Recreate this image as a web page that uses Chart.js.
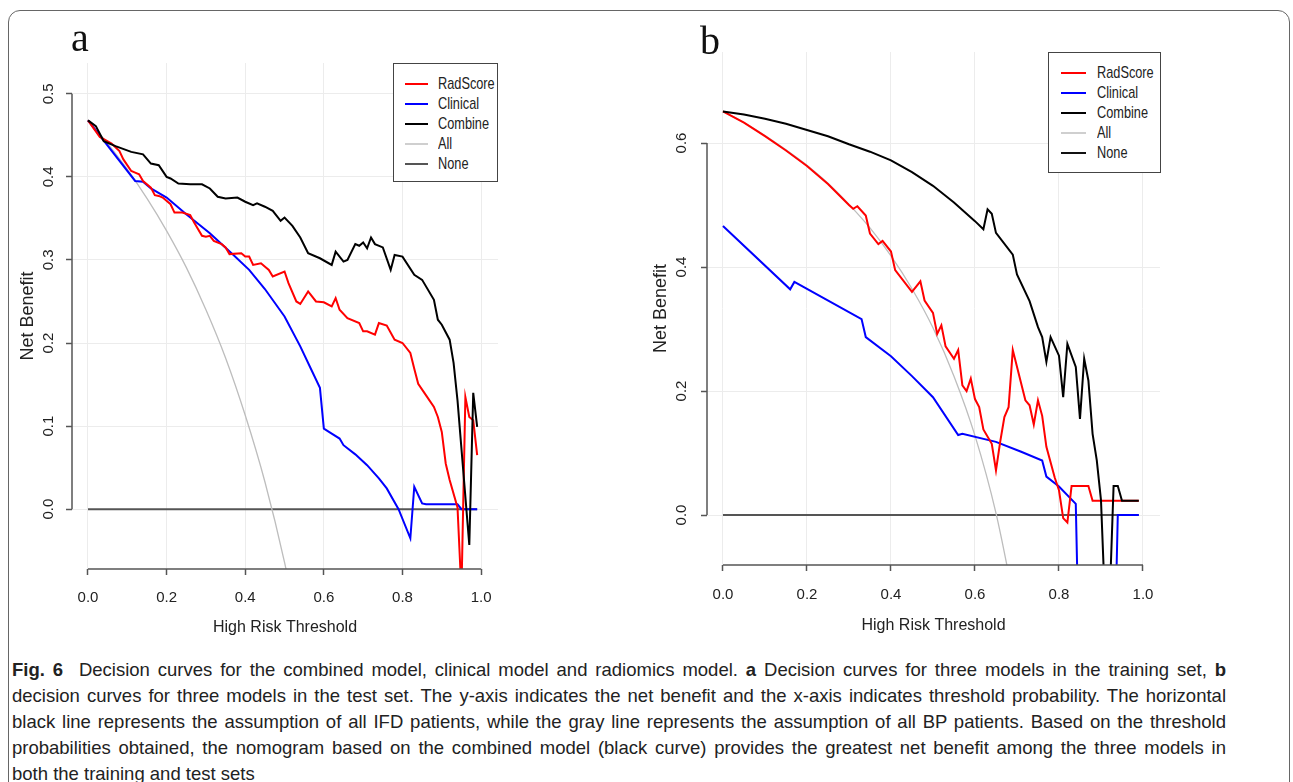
<!DOCTYPE html>
<html>
<head>
<meta charset="utf-8">
<script src="https://cdn.jsdelivr.net/npm/chart.js@4.4.1/dist/chart.umd.min.js"></script>
<style>
  html, body { margin: 0; padding: 0; background: #fff; }
  body { width: 1293px; height: 782px; position: relative; overflow: hidden; font-family: "Liberation Sans", Arial, sans-serif; color: #222; }
  .frame { position: absolute; left: 8px; top: 10px; width: 1282px; height: 820px; border: 1.5px solid #666; border-radius: 12px; box-sizing: border-box; }
  .panel { position: absolute; top: 0; height: 645px; }
  #panelA { left: 0; width: 650px; }
  #panelB { left: 650px; width: 643px; }
  .tag { position: absolute; font-family: "Liberation Serif", "Times New Roman", serif; font-size: 40px; line-height: 40px; color: #111; }
  .legend { position: absolute; background: #fff; border: 1.5px solid #444; box-sizing: border-box; font-family: "Liberation Sans", Arial, sans-serif; font-size: 17px; color: #222; }
  .legend .row { position: absolute; left: 0; height: 20px; width: 100%; }
  .legend .sw { position: absolute; top: 50%; }
  .legend .lb { position: absolute; top: 0; line-height: 20px; white-space: nowrap; transform: scaleX(0.75); transform-origin: left center; }
  .caption { position: absolute; left: 12px; top: 657px; width: 1214px; font-size: 18.5px; line-height: 26px; color: #222; }
  .caption .jl { text-align: justify; text-align-last: justify; white-space: nowrap; }
</style>
</head>
<body>
<div class="frame"></div>
<div class="panel" id="panelA"><canvas id="chartA"></canvas></div>
<div class="panel" id="panelB"><canvas id="chartB"></canvas></div>
<div class="tag" style="left:71px; top:18px;">a</div>
<div class="tag" style="left:700px; top:21px;">b</div>
<div class="legend" id="legendA" style="left:393px; top:63px; width:105px; height:119px;"></div>
<div class="legend" id="legendB" style="left:1048px; top:52px; width:113px; height:121px;"></div>
<div class="caption">
  <div class="jl"><b>Fig. 6</b>&nbsp; Decision curves for the combined model, clinical model and radiomics model. <b>a</b> Decision curves for three models in the training set, <b>b</b></div>
  <div class="jl">decision curves for three models in the test set. The y-axis indicates the net benefit and the x-axis indicates threshold probability. The horizontal</div>
  <div class="jl">black line represents the assumption of all IFD patients, while the gray line represents the assumption of all BP patients. Based on the threshold</div>
  <div class="jl">probabilities obtained, the nomogram based on the combined model (black curve) provides the greatest net benefit among the three models in</div>
  <div>both the training and test sets</div>
</div>
<script>
// series names, shared by both panels
const seriesNames = ["RadScore", "Clinical", "Combine", "All", "None"];

// axis ticks
const xTicks = [0, 0.2, 0.4, 0.6, 0.8, 1.0];
const aYTicks = [0, 0.1, 0.2, 0.3, 0.4, 0.5];
const bYTicks = [0, 0.2, 0.4, 0.6];

// panel a: training set
const aRadX = [0, 0.03, 0.06, 0.08, 0.09, 0.11, 0.12, 0.13, 0.14, 0.16, 0.17, 0.18, 0.19, 0.21, 0.22, 0.24, 0.26, 0.27, 0.29, 0.30, 0.31, 0.32, 0.34, 0.35, 0.36, 0.39, 0.40, 0.41, 0.42, 0.44, 0.46, 0.47, 0.50, 0.51, 0.53, 0.54, 0.56, 0.58, 0.60, 0.62, 0.63, 0.64, 0.66, 0.69, 0.70, 0.71, 0.73, 0.74, 0.76, 0.78, 0.80, 0.82, 0.83, 0.84, 0.86, 0.88, 0.89, 0.90, 0.91, 0.92, 0.94, 0.95, 0.96, 0.97, 0.98, 0.99];
const aRadY = [0.468, 0.448, 0.440, 0.431, 0.421, 0.407, 0.405, 0.403, 0.395, 0.387, 0.378, 0.377, 0.375, 0.367, 0.357, 0.357, 0.354, 0.345, 0.329, 0.328, 0.329, 0.323, 0.319, 0.315, 0.307, 0.308, 0.304, 0.304, 0.294, 0.296, 0.288, 0.280, 0.286, 0.272, 0.250, 0.247, 0.262, 0.250, 0.249, 0.244, 0.254, 0.240, 0.230, 0.224, 0.214, 0.214, 0.210, 0.224, 0.221, 0.204, 0.200, 0.188, 0.169, 0.151, 0.137, 0.123, 0.111, 0.093, 0.055, 0.035, 0.002, -0.100, 0.135, 0.111, 0.107, 0.065];

const aClinX = [0, 0.12, 0.14, 0.16, 0.20, 0.25, 0.31, 0.37, 0.41, 0.45, 0.50, 0.54, 0.57, 0.59, 0.60, 0.62, 0.64, 0.65, 0.68, 0.71, 0.74, 0.76, 0.79, 0.82, 0.83, 0.85, 0.86, 0.94, 0.95, 0.99];
const aClinY = [0.468, 0.395, 0.394, 0.386, 0.375, 0.355, 0.332, 0.306, 0.288, 0.265, 0.232, 0.196, 0.166, 0.146, 0.097, 0.091, 0.085, 0.077, 0.066, 0.053, 0.037, 0.025, 0.000, -0.035, 0.027, 0.007, 0.006, 0.006, 0.000, 0.000];

const aCombX = [0, 0.02, 0.04, 0.07, 0.11, 0.14, 0.16, 0.18, 0.20, 0.21, 0.23, 0.26, 0.29, 0.31, 0.33, 0.35, 0.38, 0.40, 0.42, 0.43, 0.45, 0.47, 0.49, 0.50, 0.52, 0.54, 0.56, 0.59, 0.62, 0.63, 0.65, 0.66, 0.68, 0.69, 0.70, 0.71, 0.72, 0.73, 0.75, 0.77, 0.78, 0.80, 0.83, 0.85, 0.88, 0.89, 0.90, 0.92, 0.93, 0.94, 0.97, 0.98, 0.99];
const aCombY = [0.468, 0.461, 0.443, 0.437, 0.430, 0.427, 0.416, 0.414, 0.400, 0.398, 0.392, 0.391, 0.391, 0.386, 0.376, 0.374, 0.375, 0.370, 0.366, 0.368, 0.364, 0.359, 0.347, 0.351, 0.341, 0.327, 0.308, 0.302, 0.294, 0.310, 0.298, 0.300, 0.319, 0.317, 0.321, 0.314, 0.327, 0.319, 0.315, 0.288, 0.306, 0.304, 0.282, 0.276, 0.252, 0.228, 0.222, 0.204, 0.176, 0.131, -0.043, 0.140, 0.099];

const aAllX = [0, 0.05, 0.10, 0.15, 0.20, 0.25, 0.30, 0.35, 0.40, 0.45, 0.50, 0.55];
const aAllY = [0.468, 0.440, 0.409, 0.374, 0.335, 0.291, 0.240, 0.182, 0.113, 0.033, -0.064, -0.180];

const aNoneX = [0, 0.99];
const aNoneY = [0, 0];

// panel b: test set
const bRadX = [0, 0.05, 0.10, 0.15, 0.20, 0.25, 0.30, 0.31, 0.32, 0.34, 0.35, 0.37, 0.38, 0.40, 0.41, 0.45, 0.47, 0.48, 0.50, 0.51, 0.52, 0.53, 0.55, 0.56, 0.57, 0.58, 0.59, 0.60, 0.61, 0.62, 0.64, 0.65, 0.66, 0.67, 0.68, 0.69, 0.72, 0.73, 0.74, 0.75, 0.76, 0.77, 0.79, 0.80, 0.81, 0.82, 0.83, 0.87, 0.88, 0.99];
const bRadY = [0.651, 0.633, 0.611, 0.588, 0.563, 0.534, 0.500, 0.494, 0.498, 0.483, 0.454, 0.437, 0.442, 0.425, 0.395, 0.360, 0.377, 0.346, 0.326, 0.292, 0.306, 0.272, 0.252, 0.266, 0.209, 0.200, 0.220, 0.187, 0.174, 0.138, 0.115, 0.072, 0.118, 0.158, 0.174, 0.266, 0.185, 0.177, 0.146, 0.185, 0.160, 0.110, 0.060, 0.040, -0.005, -0.012, 0.047, 0.047, 0.023, 0.023];

const bClinX = [0, 0.16, 0.17, 0.33, 0.34, 0.40, 0.45, 0.50, 0.56, 0.57, 0.65, 0.71, 0.76, 0.77, 0.80, 0.84, 0.85, 0.93, 0.94, 0.99];
const bClinY = [0.466, 0.364, 0.376, 0.316, 0.287, 0.256, 0.224, 0.190, 0.129, 0.131, 0.118, 0.102, 0.088, 0.062, 0.046, 0.018, -0.300, -0.300, 0.000, 0.000];

const bCombX = [0, 0.05, 0.10, 0.15, 0.20, 0.25, 0.30, 0.35, 0.40, 0.45, 0.50, 0.55, 0.60, 0.62, 0.63, 0.64, 0.65, 0.69, 0.70, 0.73, 0.75, 0.76, 0.77, 0.78, 0.80, 0.81, 0.82, 0.84, 0.85, 0.86, 0.87, 0.88, 0.89, 0.90, 0.91, 0.92, 0.93, 0.94, 0.95, 0.99];
const bCombY = [0.651, 0.646, 0.639, 0.631, 0.621, 0.611, 0.598, 0.586, 0.572, 0.553, 0.531, 0.504, 0.474, 0.461, 0.493, 0.486, 0.455, 0.420, 0.388, 0.345, 0.303, 0.287, 0.247, 0.287, 0.257, 0.190, 0.276, 0.239, 0.155, 0.252, 0.217, 0.131, 0.088, 0.024, -0.150, -0.150, 0.047, 0.047, 0.023, 0.023];

const bAllX = [0, 0.05, 0.10, 0.15, 0.20, 0.25, 0.30, 0.35, 0.40, 0.45, 0.50, 0.55, 0.60, 0.65, 0.70];
const bAllY = [0.651, 0.633, 0.612, 0.589, 0.564, 0.535, 0.501, 0.463, 0.418, 0.365, 0.302, 0.224, 0.128, 0.003, -0.163];

const bNoneX = [0, 0.99];
const bNoneY = [0, 0];

const SANS = "'Liberation Sans', Arial, sans-serif";
const INK = "#222";

const lineSet = (label, xs, ys, color, width, order, smooth) => ({
    label,
    data: xs.map((x, i) => ({ x, y: ys[i] })),
    borderColor: color,
    borderWidth: width,
    pointRadius: 0,
    fill: false,
    tension: 0,
    cubicInterpolationMode: smooth ? "monotone" : "default",
    order
});

// R style axis: the line only runs between the first and last tick
const rAxisLines = {
    id: "rAxisLines",
    afterDatasetsDraw(chart) {
        const { ctx, chartArea, scales: { x, y } } = chart;
        const xt = x.ticks;
        const yt = y.ticks;
        ctx.save();
        ctx.strokeStyle = "#555";
        ctx.lineWidth = 1.5;
        ctx.beginPath();
        ctx.moveTo(x.getPixelForValue(xt[0].value), chartArea.bottom);
        ctx.lineTo(x.getPixelForValue(xt[xt.length - 1].value), chartArea.bottom);
        ctx.moveTo(chartArea.left, y.getPixelForValue(yt[0].value));
        ctx.lineTo(chartArea.left, y.getPixelForValue(yt[yt.length - 1].value));
        ctx.stroke();
        ctx.restore();
    }
};

const grid = {
    color: "#ececec",
    lineWidth: 1,
    tickColor: "#555",
    tickWidth: 1.5,
    tickLength: 6
};

const buildPanel = (canvasId, cfg) => new Chart(document.getElementById(canvasId), {
    type: "line",
    data: { datasets: cfg.datasets },
    options: {
        animation: false,
        responsive: true,
        maintainAspectRatio: false,
        devicePixelRatio: 1,
        layout: { autoPadding: false, padding: cfg.padding },
        plugins: { legend: { display: false }, tooltip: { enabled: false } },
        scales: {
            x: {
                type: "linear",
                min: cfg.xMin,
                max: cfg.xMax,
                afterBuildTicks: (s) => { s.ticks = xTicks.map((value) => ({ value })); },
                afterFit: (s) => { s.height = cfg.xAxisHeight; },
                grid,
                border: { display: false },
                ticks: { font: { family: SANS, size: 15 }, color: INK, padding: cfg.xTickPad, autoSkip: false, maxRotation: 0, callback: (v) => v.toFixed(1) },
                title: { display: true, text: "High Risk Threshold", font: { family: SANS, size: 16 }, color: INK, padding: { top: 0, bottom: cfg.xTitlePad } }
            },
            y: {
                type: "linear",
                min: cfg.yMin,
                max: cfg.yMax,
                afterBuildTicks: (s) => { s.ticks = cfg.yTicks.map((value) => ({ value })); },
                afterFit: (s) => { s.width = cfg.yAxisWidth; },
                grid,
                border: { display: false },
                ticks: { font: { family: SANS, size: 15 }, color: INK, padding: cfg.yTickPad, autoSkip: false, minRotation: 90, maxRotation: 90, crossAlign: "center", callback: (v) => v.toFixed(1) },
                title: { display: true, text: "Net Benefit", font: { family: SANS, size: 18 }, color: INK, padding: { top: cfg.yTitlePad, bottom: 0 } }
            }
        }
    },
    plugins: [rAxisLines]
});

const buildLegend = (id, styles) => {
    const box = document.getElementById(id);
    seriesNames.forEach((name, i) => {
        const row = document.createElement("div");
        row.className = "row";
        row.style.top = (10 + i * 20) + "px";
        const sw = document.createElement("div");
        sw.className = "sw";
        sw.style.left = styles.swLeft + "px";
        sw.style.width = styles.swWidth + "px";
        sw.style.height = styles.widths[i] + "px";
        sw.style.marginTop = (-styles.widths[i] / 2) + "px";
        sw.style.background = styles.colors[i];
        const lb = document.createElement("div");
        lb.className = "lb";
        lb.style.left = styles.textLeft + "px";
        lb.textContent = name;
        row.appendChild(sw);
        row.appendChild(lb);
        box.appendChild(row);
    });
};

buildPanel("chartA", {
    datasets: [
        lineSet(seriesNames[2], aCombX, aCombY, "#000000", 2, 0, false),
        lineSet(seriesNames[0], aRadX, aRadY, "#ff0000", 2, 1, false),
        lineSet(seriesNames[1], aClinX, aClinY, "#0000ff", 2, 2, false),
        lineSet(seriesNames[3], aAllX, aAllY, "#bdbdbd", 1.3, 3, true),
        lineSet(seriesNames[4], aNoneX, aNoneY, "#555555", 2, 4, false)
    ],
    padding: { left: 0, top: 63, right: 152, bottom: 0 },
    xMin: -0.0407, xMax: 1.043,
    yMin: -0.072, yMax: 0.537,
    yTicks: aYTicks,
    xAxisHeight: 76, yAxisWidth: 72,
    xTickPad: 14, xTitlePad: 8,
    yTickPad: 7, yTitlePad: 17
});

buildPanel("chartB", {
    datasets: [
        lineSet(seriesNames[2], bCombX, bCombY, "#000000", 2, 0, false),
        lineSet(seriesNames[0], bRadX, bRadY, "#ff0000", 2, 1, false),
        lineSet(seriesNames[1], bClinX, bClinY, "#0000ff", 2, 2, false),
        lineSet(seriesNames[3], bAllX, bAllY, "#bdbdbd", 1.3, 3, true),
        lineSet(seriesNames[4], bNoneX, bNoneY, "#555555", 2, 4, false)
    ],
    padding: { left: 0, top: 52, right: 133, bottom: 0 },
    xMin: -0.038, xMax: 1.0405,
    yMin: -0.0806, yMax: 0.7468,
    yTicks: bYTicks,
    xAxisHeight: 80, yAxisWidth: 57,
    xTickPad: 15, xTitlePad: 10,
    yTickPad: 9, yTitlePad: 0
});

buildLegend("legendA", { swLeft: 11, swWidth: 23, textLeft: 44, colors: ["#ff0000", "#0000ff", "#000000", "#cfcfcf", "#555555"], widths: [2, 2, 2, 2, 1.5] });
buildLegend("legendB", { swLeft: 12, swWidth: 25, textLeft: 48, colors: ["#ff0000", "#0000ff", "#000000", "#cfcfcf", "#111111"], widths: [2, 2, 2, 2, 1.2] });
</script>
</body>
</html>
